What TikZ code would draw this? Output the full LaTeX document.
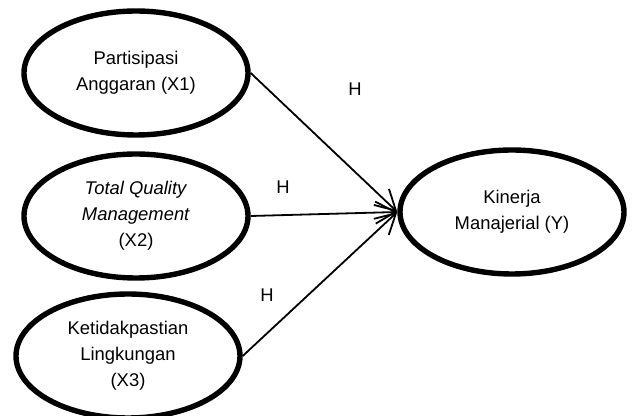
\documentclass[tikz,border=0pt]{standalone}
\usepackage{fontspec}
\setmainfont{Liberation Sans}
\usetikzlibrary{arrows.meta, shapes.geometric}

\begin{document}
\begin{tikzpicture}[x=0.5pt, y=-0.5pt,
    every node/.style={font=\fontsize{9.2}{13}\selectfont},
    construct/.style={draw, ellipse, line width=2.7pt, minimum width=112pt, minimum height=62pt, align=center, inner sep=0pt},
    hyppath/.style={line width=0.9pt, -{Straight Barb[length=10pt, width=11pt, line width=0.9pt]}}]

    \useasboundingbox (0,0) rectangle (632,416);
    \clip (0,0) rectangle (632,416);

    % 1. INDEPENDENT VARIABLES (left column)
    \node[construct] (x1) at (136, 73) {Partisipasi\\Anggaran (X1)};
    \node[construct] (x2) at (136, 216) {\textit{Total Quality}\\\textit{Management}\\(X2)};
    \node[construct] (x3) at (128, 356) {Ketidakpastian\\Lingkungan\\(X3)};

    % 2. DEPENDENT VARIABLE (right)
    \node[construct] (y) at (512, 212) {Kinerja\\Manajerial (Y)};

    % 3. HYPOTHESIS PATHS
    \draw[hyppath] (x1.east) -- (y.west);
    \draw[hyppath] (x2.east) -- (y.west);
    \draw[hyppath] (x3.east) -- (y.west);

    % Hypothesis labels
    \node (h1) at (355, 89) {H};
    \node (h2) at (283, 187) {H};
    \node (h3) at (267, 295) {H};

\end{tikzpicture}
\end{document}
